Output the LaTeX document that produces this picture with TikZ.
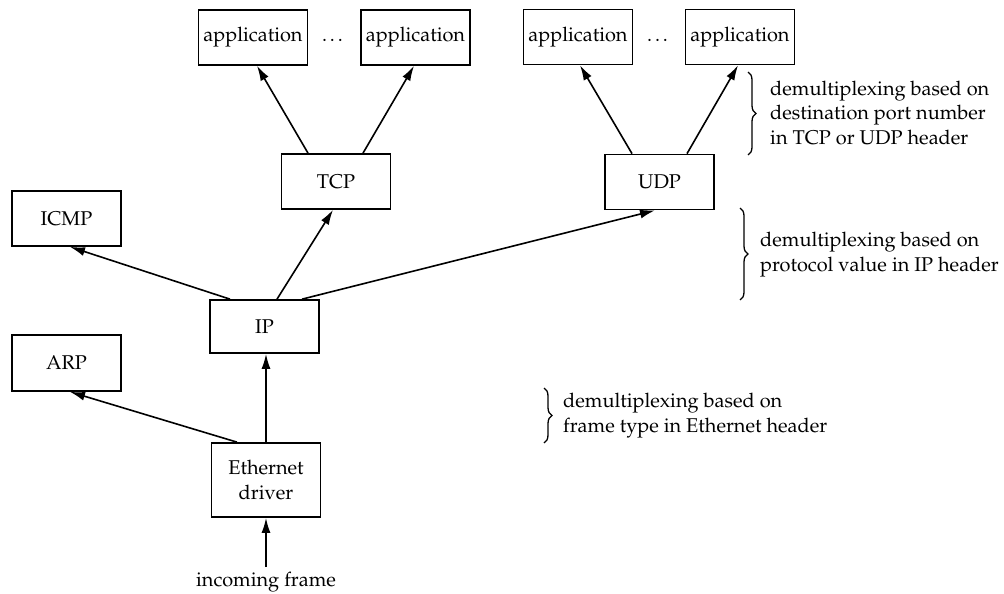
\documentclass[tikz,border=0pt]{standalone}
\usepackage[T1]{fontenc}
\usepackage{mathpazo}
\usetikzlibrary{arrows.meta,decorations.pathreplacing}
\begin{document}
\begin{tikzpicture}[x=1bp,y=-1bp,
  font=\fontsize{20}{24.5}\selectfont,
  box/.style={draw,line width=1.7bp,inner sep=0pt,minimum width=109bp,minimum height=55bp},
  arr/.style={line width=1.6bp,-{Latex[length=15bp,width=9bp]}},
  br/.style={line width=1.3bp,decorate,decoration={brace,amplitude=8bp}},
  lbl/.style={anchor=west,align=left,inner sep=0pt}]
\useasboundingbox (0,0) rectangle (1004,594);
\node[box] (app1) at (253,37.5) {application};
\node[box] (app2) at (415.5,37.5) {application};
\node[box] (app3) at (578,37) {application};
\node[box] (app4) at (740,37) {application};
\node (dots1) at (334,40) {\dots};
\node (dots2) at (659,40) {\dots};
\node[box] (tcp) at (336,181.5) {TCP};
\node[box] (udp) at (659.5,182) {UDP};
\node[box] (icmp) at (66.5,218.5) {ICMP};
\node[box,minimum height=53bp] (ip) at (264.5,326.5) {IP};
\node[box,minimum height=56bp] (arp) at (66.5,363) {ARP};
\node[box,minimum height=74bp,align=center] (eth) at (266,480) {Ethernet\\driver};
\node (in) at (266,582) {incoming frame};
\coordinate (inend) at (266,567);

\draw[arr] ([xshift=-28bp]tcp.north) -- ([xshift=4bp]app1.south);
\draw[arr] ([xshift=27bp]tcp.north) -- ([xshift=-1.5bp]app2.south);
\draw[arr] ([xshift=-27.5bp]udp.north) -- ([xshift=2bp]app3.south);
\draw[arr] ([xshift=27.5bp]udp.north) -- ([xshift=-2bp]app4.south);
\draw[arr] ([xshift=-34.5bp]ip.north) -- ([xshift=3.5bp]icmp.south);
\draw[arr] ([xshift=12.5bp]ip.north) -- ([xshift=-3bp]tcp.south);
\draw[arr] ([xshift=37.5bp]ip.north) -- ([xshift=-4.5bp]udp.south);
\draw[arr] ([xshift=-29bp]eth.north) -- ([xshift=3.5bp]arp.south);
\draw[arr] (eth.north) -- (eth.north |- ip.south);
\draw[arr] (inend) -- (eth.south);

\draw[br] (748,72) -- (748,155);
\node[lbl] (t1) at (770,113) {demultiplexing based on\\destination port number\\in TCP or UDP header};
\draw[br] (740,208) -- (740,300);
\node[lbl] (t2) at (760,254.5) {demultiplexing based on\\protocol value in IP header};
\draw[br] (544,388) -- (544,443);
\node[lbl] (t3) at (563,415.5) {demultiplexing based on\\frame type in Ethernet header};
\end{tikzpicture}
\end{document}
